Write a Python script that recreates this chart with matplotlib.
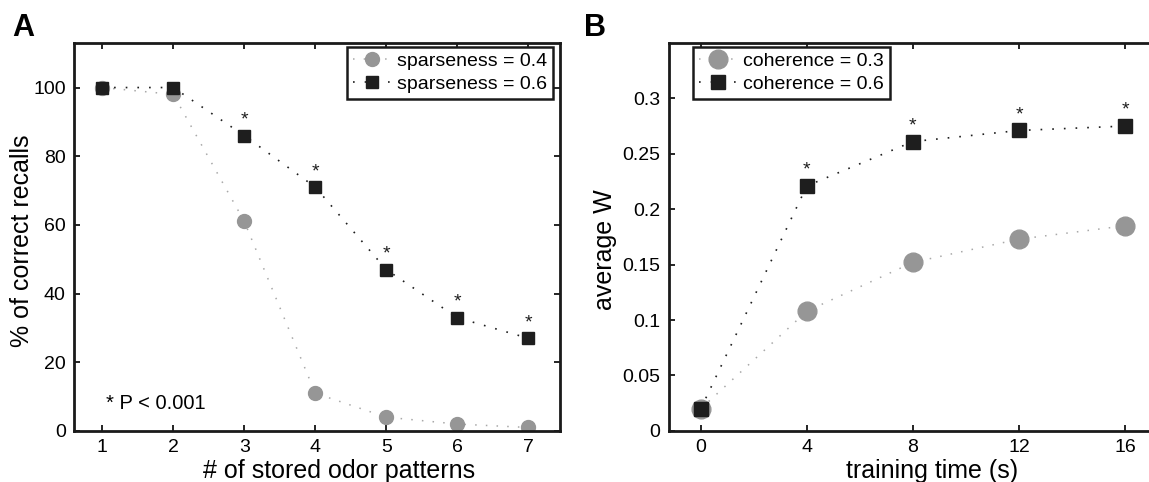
"""
Two-panel recall / learning figure (A: recall vs number of stored patterns,
B: average weight vs training time).
"""

import matplotlib
matplotlib.use("Agg")
import matplotlib.pyplot as plt

plt.rcParams["font.family"] = ["Liberation Sans", "DejaVu Sans"]

# ---- panel A data ----
patterns = [1, 2, 3, 4, 5, 6, 7]
recall_sparse_04 = [100, 98, 61, 11, 4, 2, 1]
recall_sparse_06 = [100, 100, 86, 71, 47, 33, 27]
signif_patterns = [3, 4, 5, 6, 7]
a_yticks = [0, 20, 40, 60, 80, 100]

# ---- panel B data ----
train_time = [0, 4, 8, 12, 16]
weight_coh_03 = [0.020, 0.108, 0.152, 0.173, 0.185]
weight_coh_06 = [0.020, 0.221, 0.261, 0.271, 0.275]
signif_times = [4, 8, 12, 16]
b_yticks = [0, 0.05, 0.1, 0.15, 0.2, 0.25, 0.3]
b_yticklabels = ["0", "0.05", "0.1", "0.15", "0.2", "0.25", "0.3"]

GRAY = "#969696"
GRAY_LINE = "#a8a8a8"
BLACK = "#1e1e1e"
DOTS = (0, (1, 6))


def style_axes(ax):
    for spine in ax.spines.values():
        spine.set_linewidth(2.0)
        spine.set_color("#1a1a1a")
    ax.tick_params(direction="in", length=4, width=1.2, labelsize=14,
                   top=True, right=True, pad=6)


def add_stars(ax, xs, ys):
    for x, y in zip(xs, ys):
        ax.annotate("*", (x, y), xytext=(0, 8), textcoords="offset points",
                    ha="center", va="baseline", fontsize=14, color=BLACK)


def add_legend(ax, loc, anchor):
    leg = ax.legend(loc=loc, bbox_to_anchor=anchor, borderaxespad=0,
                    fancybox=False, framealpha=1, edgecolor="#1a1a1a",
                    fontsize=14, handlelength=2.0, handletextpad=0.3,
                    labelspacing=0.25, borderpad=0.3)
    leg.get_frame().set_linewidth(1.8)
    return leg


fig = plt.figure(figsize=(11.49, 4.82), dpi=100)
ax_a = fig.add_axes([0.0644, 0.106, 0.4230, 0.805])
ax_b = fig.add_axes([0.5822, 0.106, 0.4247, 0.805])

# ---- panel A ----
ax_a.plot(patterns, recall_sparse_04, linestyle=DOTS, color=GRAY_LINE, lw=1.1,
          marker="o", markersize=10, markerfacecolor=GRAY, markeredgecolor=GRAY,
          label="sparseness = 0.4")
ax_a.plot(patterns, recall_sparse_06, linestyle=DOTS, color=BLACK, lw=1.2,
          marker="s", markersize=8.5, markerfacecolor=BLACK, markeredgecolor=BLACK,
          label="sparseness = 0.6")
stars_a = [recall_sparse_06[patterns.index(p)] for p in signif_patterns]
add_stars(ax_a, signif_patterns, stars_a)
ax_a.text(1.05, 6.4, "* P < 0.001", fontsize=14.5, va="baseline", ha="left")

ax_a.set_xlim(0.6, 7.45)
ax_a.set_ylim(0, 113)
ax_a.set_xticks(patterns)
ax_a.set_yticks(a_yticks)
style_axes(ax_a)
ax_a.set_xlabel("# of stored odor patterns", fontsize=18)
ax_a.xaxis.set_label_coords(0.545, -0.122)
ax_a.xaxis.label.set_va("baseline")
ax_a.set_ylabel("% of correct recalls", fontsize=18, va="center")
ax_a.yaxis.set_label_coords(-0.107, 0.49)
add_legend(ax_a, "upper right", (0.986, 0.99))

# ---- panel B ----
ax_b.plot(train_time, weight_coh_03, linestyle=DOTS, color=GRAY_LINE, lw=1.1,
          marker="o", markersize=13.5, markerfacecolor=GRAY, markeredgecolor=GRAY,
          label="coherence = 0.3")
ax_b.plot(train_time, weight_coh_06, linestyle=DOTS, color=BLACK, lw=1.2,
          marker="s", markersize=10.5, markerfacecolor=BLACK, markeredgecolor=BLACK,
          label="coherence = 0.6")
stars_b = [weight_coh_06[train_time.index(t)] for t in signif_times]
add_stars(ax_b, signif_times, stars_b)

ax_b.set_xlim(-1.2, 17.2)
ax_b.set_ylim(0, 0.35)
ax_b.set_xticks(train_time)
ax_b.set_yticks(b_yticks)
ax_b.set_yticklabels(b_yticklabels)
style_axes(ax_b)
ax_b.set_xlabel("training time (s)", fontsize=18)
ax_b.xaxis.set_label_coords(0.54, -0.122)
ax_b.xaxis.label.set_va("baseline")
ax_b.set_ylabel("average W", fontsize=18, va="center")
ax_b.yaxis.set_label_coords(-0.131, 0.466)
add_legend(ax_b, "upper left", (0.049, 0.99))

# ---- panel letters ----
fig.text(0.011, 0.925, "A", fontsize=22, fontweight="bold", va="baseline")
fig.text(0.508, 0.925, "B", fontsize=22, fontweight="bold", va="baseline")

fig.savefig("out.png", dpi=100)
